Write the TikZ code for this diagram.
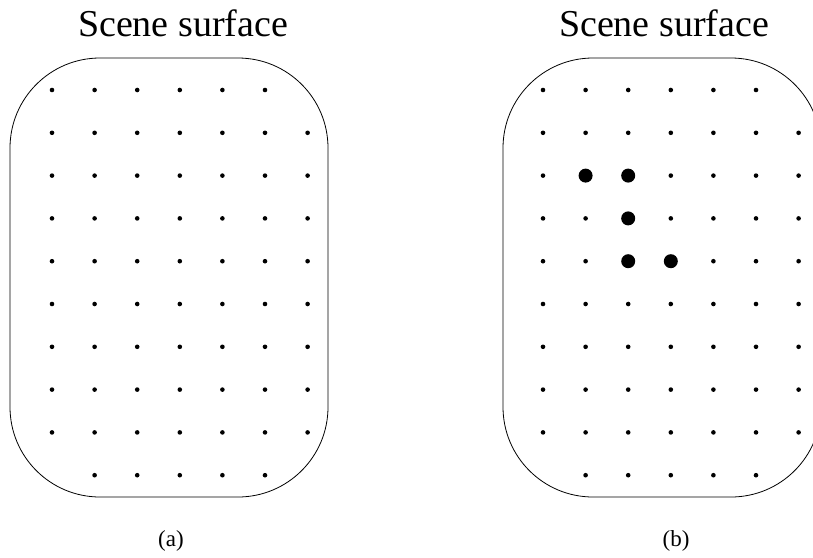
\documentclass[tikz,border=0pt]{standalone}
\usepackage{fontspec}
\setmainfont{Liberation Serif}
\tikzset{
  surface/.style={draw=black, line width=0.8pt, rounded corners=90pt},
  sample/.style={fill=black},
  hit/.style={fill=black},
  title/.style={font=\fontsize{38}{40}\selectfont, inner sep=0pt, anchor=base},
  caption/.style={font=\fontsize{23}{25}\selectfont, inner sep=0pt, anchor=base},
}

\begin{document}
\begin{tikzpicture}[x=1pt, y=-1pt]
  \useasboundingbox (0,0) rectangle (813,557);

  % --- (a) regular sampling of the surface
  \node[title] (titlea) at (183,36) {Scene surface};
  \draw[surface] (10,58) rectangle (328,497);
  \foreach \c in {0,...,5}{ \fill[sample] (52+42.6*\c,90) circle (2.3); }
  \foreach \r in {1,...,8}{ \foreach \c in {0,...,6}{ \fill[sample] (52+42.6*\c,90+42.8*\r) circle (2.3); } }
  \foreach \c in {1,...,5}{ \fill[sample] (52+42.6*\c,475.2) circle (2.3); }
  \node[caption] (capa) at (171,546) {(a)};

  % --- (b) same grid, selected samples enlarged
  \node[title] (titleb) at (664,36) {Scene surface};
  \draw[surface] (503,58) rectangle (821,497);
  \foreach \c in {0,...,5}{ \fill[sample] (543+42.6*\c,90) circle (2.3); }
  \foreach \r in {1,...,8}{ \foreach \c in {0,...,6}{ \fill[sample] (543+42.6*\c,90+42.8*\r) circle (2.3); } }
  \foreach \c in {1,...,5}{ \fill[sample] (543+42.6*\c,475.2) circle (2.3); }
  \foreach \c/\r in {1/2, 2/2, 2/3, 2/4, 3/4}{ \fill[hit] (543+42.6*\c,90+42.8*\r) circle (7); }
  \node[caption] (capb) at (676,546) {(b)};
\end{tikzpicture}
\end{document}
